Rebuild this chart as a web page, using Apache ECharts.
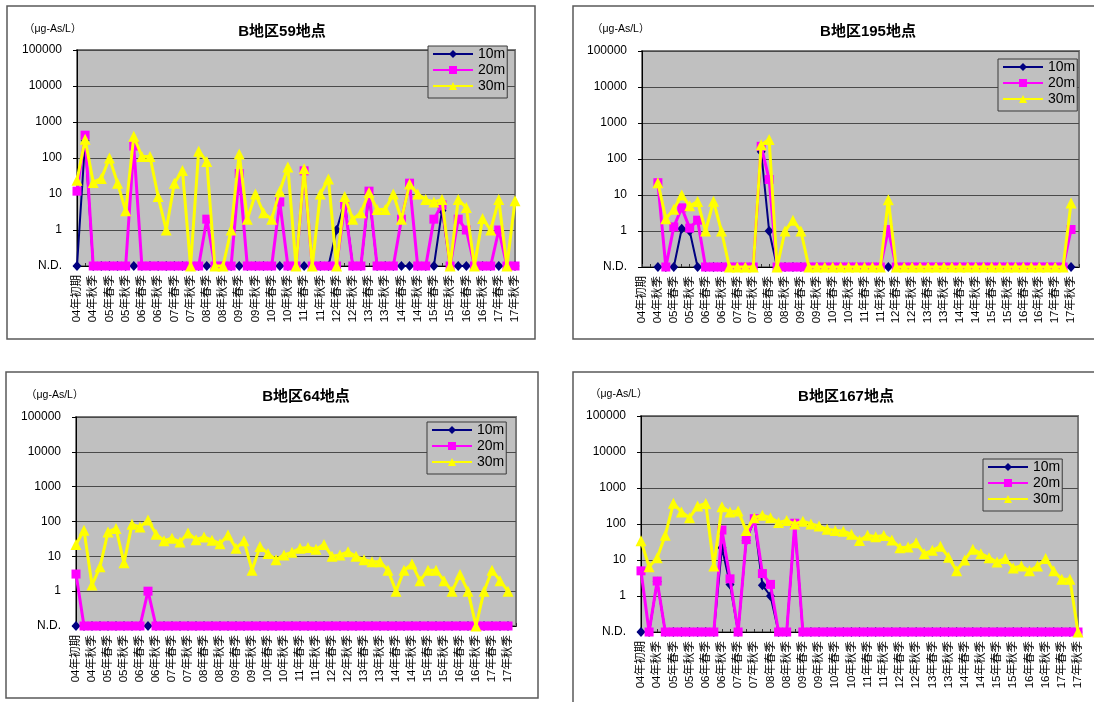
<!DOCTYPE html>
<html><head><meta charset="utf-8">
<script src="https://cdn.jsdelivr.net/npm/echarts@6/dist/echarts.min.js"></script>
<style>html,body{margin:0;padding:0;background:#fff;}#c{width:1094px;height:702px;}</style>
</head><body><div id="c"></div>
<script>
const ND = 0.1; // N.D. (not detected) plotted on the axis floor

// categories (labels every other tick are shown)
const cats55 = ['04年初期','04年夏季','04年秋季','04年冬季',
 '05年春季','05年夏季','05年秋季','05年冬季','06年春季','06年夏季','06年秋季','06年冬季',
 '07年春季','07年夏季','07年秋季','07年冬季','08年春季','08年夏季','08年秋季','08年冬季',
 '09年春季','09年夏季','09年秋季','09年冬季','10年春季','10年夏季','10年秋季','10年冬季',
 '11年春季','11年夏季','11年秋季','11年冬季','12年春季','12年夏季','12年秋季','12年冬季',
 '13年春季','13年夏季','13年秋季','13年冬季','14年春季','14年夏季','14年秋季','14年冬季',
 '15年春季','15年夏季','15年秋季','15年冬季','16年春季','16年夏季','16年秋季','16年冬季',
 '17年春季','17年夏季','17年秋季'];
const cats56 = cats55.concat(['17年冬季']);
const yTicks = [0.1, 1, 10, 100, 1000, 10000, 100000];
const seriesNames = ['10m','20m','30m'];

// B地区59地点
const s59_10m = [ND,300,ND,ND,ND,ND,ND,ND,ND,ND,ND,ND,ND,ND,ND,ND,ND,ND,ND,ND,ND,ND,ND,ND,ND,ND,ND,ND,ND,ND,ND,ND,1,6,ND,ND,10,ND,ND,ND,ND,ND,ND,ND,ND,3.5,ND,ND,ND,ND,ND,ND,ND,ND,ND];
const s59_20m = [12,430,ND,ND,ND,ND,ND,215,ND,ND,ND,ND,ND,ND,ND,ND,2,ND,ND,ND,37,ND,ND,ND,ND,6,ND,ND,44,ND,ND,ND,ND,5,ND,ND,12,ND,ND,ND,2,20,ND,ND,2,5,ND,2,1,ND,ND,ND,1,ND,ND];
const s59_30m = [24,330,21,27,100,20,3.4,400,110,110,8.5,1,20,45,ND,155,80,ND,ND,1,130,2,10,3,2,12,56,ND,50,ND,10,26,ND,8.5,2,3,11,3.7,3.7,10,2,19,10,7,6,7,ND,7,4.2,ND,2.1,1,7,ND,6.5];

// B地区195地点
const s195_10m = [null,null,ND,ND,ND,1.15,1,ND,ND,ND,ND,ND,ND,ND,ND,160,1,ND,ND,ND,ND,ND,ND,ND,ND,ND,ND,ND,ND,ND,ND,ND,ND,ND,ND,ND,ND,ND,ND,ND,ND,ND,ND,ND,ND,ND,ND,ND,ND,ND,ND,ND,ND,ND,ND];
const s195_20m = [null,null,22,ND,1.3,4.4,1.2,2,ND,ND,ND,ND,ND,ND,ND,225,27,ND,ND,ND,ND,ND,ND,ND,ND,ND,ND,ND,ND,ND,ND,1.1,ND,ND,ND,ND,ND,ND,ND,ND,ND,ND,ND,ND,ND,ND,ND,ND,ND,ND,ND,ND,ND,ND,1.1];
const s195_30m = [null,null,22,2.2,4,10,5,6.6,1,6.7,1,ND,ND,ND,ND,250,350,ND,1,2,1,ND,ND,ND,ND,ND,ND,ND,ND,ND,ND,7.4,ND,ND,ND,ND,ND,ND,ND,ND,ND,ND,ND,ND,ND,ND,ND,ND,ND,ND,ND,ND,ND,ND,6];

// B地区64地点
const s64_10m = [ND,ND,ND,ND,ND,ND,ND,ND,ND,ND,ND,ND,ND,ND,ND,ND,ND,ND,ND,ND,ND,ND,ND,ND,ND,ND,ND,ND,ND,ND,ND,ND,ND,ND,ND,ND,ND,ND,ND,ND,ND,ND,ND,ND,ND,ND,ND,ND,ND,ND,ND,ND,ND,ND,ND];
const s64_20m = [3.1,ND,ND,ND,ND,ND,ND,ND,ND,1,ND,ND,ND,ND,ND,ND,ND,ND,ND,ND,ND,ND,ND,ND,ND,ND,ND,ND,ND,ND,ND,ND,ND,ND,ND,ND,ND,ND,ND,ND,ND,ND,ND,ND,ND,ND,ND,ND,ND,ND,ND,ND,ND,ND,ND];
const s64_30m = [22,56,1.5,5,50,63,6.5,83,70,110,43,28,33,26,47,30,36,29,23,41,17,28,4,19,12,8,11,13,17,18,16,22,10,11,13.5,10,8,7,7,4,1,4,6,2,4,4,2,1,3,1,ND,1,4,2,1];

// B地区167地点
const s167_10m = [ND,ND,2.5,ND,ND,ND,ND,ND,ND,ND,22,2.1,ND,35,130,2,1,ND,ND,90,ND,ND,ND,ND,ND,ND,ND,ND,ND,ND,ND,ND,ND,ND,ND,ND,ND,ND,ND,ND,ND,ND,ND,ND,ND,ND,ND,ND,ND,ND,ND,ND,ND,ND,ND];
const s167_20m = [5,ND,2.6,ND,ND,ND,ND,ND,ND,ND,68,3,ND,37,140,4.2,2.1,ND,ND,105,ND,ND,ND,ND,ND,ND,ND,ND,ND,ND,ND,ND,ND,ND,ND,ND,ND,ND,ND,ND,ND,ND,ND,ND,ND,ND,ND,ND,ND,ND,ND,ND,ND,ND,ND];
const s167_30m = [34,6.5,11.6,49,375,215,150,315,370,6.8,300,215,230,66,150,175,150,110,126,100,120,100,88,71,66,63,52,35,49,44,48,36,22,23,30,15,18.6,24,12,5,10,20,15,11.6,8.8,11,6,6.8,5,6.8,11,5,2.9,2.9,ND];

const titles = ['B地区59地点','B地区195地点','B地区64地点','B地区167地点'];
const unitLabel = '（μg-As/L）';

const FONT = '"Liberation Sans", Arial, "Noto Sans CJK JP", sans-serif';

const panels = [
  {cats: cats55, d: [s59_10m, s59_20m, s59_30m], grid: {left: 77, top: 50, width: 438, height: 216},
   legend: {left: 428, top: 46}, title: [282, 32], unit: [24, 29], box: [7, 6, 528, 333]},
  {cats: cats56, d: [s195_10m, s195_20m, s195_30m], grid: {left: 642, top: 51, width: 437, height: 216},
   legend: {left: 998, top: 59}, title: [868, 32], unit: [592, 29], box: [573, 6, 540, 333]},
  {cats: cats56, d: [s64_10m, s64_20m, s64_30m], grid: {left: 76, top: 417, width: 440, height: 209},
   legend: {left: 427, top: 422}, title: [306, 397], unit: [26, 395], box: [6, 372, 532, 326]},
  {cats: cats55, d: [s167_10m, s167_20m, s167_30m], grid: {left: 641, top: 416, width: 437, height: 216},
   legend: {left: 983, top: 459}, title: [846, 397], unit: [590, 394], box: [573, 372, 540, 340]}
];

const styles = [
  {color: '#000080', width: 2, symbol: 'diamond', size: [9, 10]},
  {color: '#ff00ff', width: 3, symbol: 'rect', size: 9},
  {color: '#ffff00', width: 3, symbol: 'triangle', size: 11}
];

const option = {
  animation: false,
  backgroundColor: '#ffffff',
  grid: [], xAxis: [], yAxis: [], legend: [], series: [], graphic: []
};

panels.forEach((p, k) => {
  option.grid.push(Object.assign({show: true, backgroundColor: '#c0c0c0', borderColor: '#7a7a7a', borderWidth: 2}, p.grid));
  option.xAxis.push({
    type: 'category', gridIndex: k, data: p.cats, boundaryGap: false,
    axisLine: {lineStyle: {color: '#000', width: 1}},
    axisTick: {show: true, inside: true, length: 3, interval: 0, lineStyle: {color: '#333'}},
    axisLabel: {interval: 1, rotate: 90, fontSize: 11.5, color: '#000', margin: 9, fontFamily: FONT},
    splitLine: {show: false}
  });
  option.yAxis.push({
    type: 'log', logBase: 10, gridIndex: k, min: yTicks[0], max: yTicks[yTicks.length - 1], splitNumber: 6,
    axisLine: {show: true, lineStyle: {color: '#000', width: 1}},
    axisTick: {show: true, length: 4, lineStyle: {color: '#000'}},
    axisLabel: {fontSize: 12, color: '#000', margin: 15, fontFamily: FONT,
      formatter: v => (v < 0.5 ? 'N.D.' : String(Math.round(v)))},
    splitLine: {show: true, lineStyle: {color: '#4a4a4a', width: 1}}
  });
  option.legend.push({
    orient: 'vertical', left: p.legend.left, top: p.legend.top,
    data: seriesNames, itemWidth: 40, itemHeight: 10, itemGap: 0,
    backgroundColor: '#c0c0c0', borderColor: '#3a3a3a', borderWidth: 1,
    padding: [0, 2, 4, 4], selectedMode: false,
    textStyle: {fontSize: 14, color: '#000', lineHeight: 16, fontFamily: FONT}
  });
  seriesNames.forEach((name, j) => {
    const s = styles[j];
    option.series.push({
      name: name, type: 'line', xAxisIndex: k, yAxisIndex: k, data: p.d[j],
      symbol: s.symbol, symbolSize: s.size, showAllSymbol: true,
      lineStyle: {color: s.color, width: s.width},
      itemStyle: {color: s.color}, z: 2 + j
    });
  });
  option.graphic.push({
    type: 'rect', shape: {x: p.box[0], y: p.box[1], width: p.box[2], height: p.box[3]},
    style: {fill: 'none', stroke: '#5a5a5a', lineWidth: 1.5}, z: -1, silent: true
  });
  option.graphic.push({
    type: 'text', x: p.title[0], y: p.title[1], silent: true,
    style: {text: titles[k], fill: '#000', font: 'bold 15px ' + FONT, align: 'center', verticalAlign: 'middle', textAlign: 'center', textVerticalAlign: 'middle'}
  });
  option.graphic.push({
    type: 'text', x: p.unit[0], y: p.unit[1], silent: true,
    style: {text: unitLabel, fill: '#000', font: '10.5px ' + FONT, align: 'left', verticalAlign: 'middle', textAlign: 'left', textVerticalAlign: 'middle'}
  });
});

const chart = echarts.init(document.getElementById('c'), null, {renderer: 'canvas'});
chart.setOption(option);
</script></body></html>
